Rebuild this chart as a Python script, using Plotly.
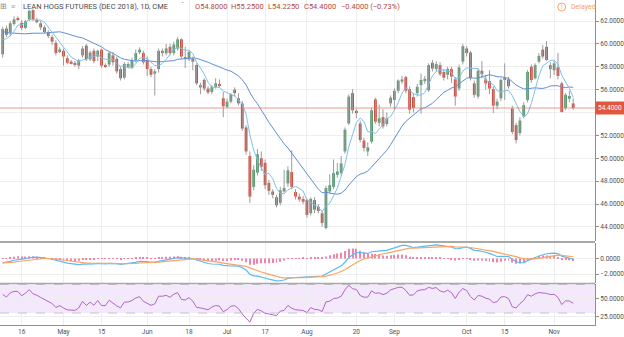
import numpy as np
import pandas as pd
import plotly.graph_objects as go
from plotly.subplots import make_subplots

# ---- daily OHLC, Lean Hogs Dec 2018 (CME), 9 Apr - 8 Nov 2018 ----
opens = [59.1, 61.35, 61.0, 61.75, 62.25, 61.85, 61.4, 62.15, 62.95, 62.1,
         61.8, 61.45, 61.0, 60.6, 60.1, 59.37, 59.4, 58.75, 58.45, 58.3,
         58.1, 59.0, 59.85, 58.65, 59.4, 58.9, 59.5, 58.1, 58.2, 59.0,
         58.7, 57.8, 57.05, 58.0, 57.9, 58.6, 59.25, 59.2, 58.6, 57.8,
         57.4, 57.8, 59.2, 59.18, 59.75, 59.2, 59.6, 60.4, 58.7, 58.65,
         58.7, 58.15, 56.2, 56.85, 56.1, 55.8, 56.25, 56.4, 55.25, 54.5,
         54.95, 56.0, 55.25, 54.8, 52.7, 50.2, 47.5, 48.75, 50.0, 49.6,
         47.85, 47.1, 46.6, 46.1, 47.1, 47.8, 48.8, 47.05, 46.65, 46.45,
         46.35, 45.2, 46.35, 45.75, 45.2, 43.9, 47.1, 47.5, 48.55, 48.7,
         50.6, 53.05, 55.7, 54.15, 53.05, 51.55, 50.6, 51.45, 55.15, 53.1,
         53.6, 53.0, 54.8, 55.1, 55.9, 56.7, 57.1, 56.05, 55.35, 55.7,
         56.4, 56.75, 55.95, 58.35, 57.8, 58.15, 57.55, 57.3, 57.8, 56.9,
         56.1, 58.45, 59.6, 59.25, 56.55, 55.4, 57.65, 56.9, 56.75, 56.05,
         54.6, 55.25, 56.85, 56.9, 54.35, 52.9, 52.2, 53.65, 55.1, 58.0,
         57.0, 58.45, 59.5, 59.75, 57.8, 57.7, 57.95, 56.55, 54.4, 55.2,
         54.8]
highs = [61.5, 61.6, 62.0, 62.4, 62.4, 62.1, 62.1, 63.0, 63.1, 62.3,
         62.0, 61.6, 61.2, 60.8, 60.3, 59.7, 59.6, 59.0, 58.6, 58.5,
         58.7, 59.8, 60.0, 59.4, 59.6, 59.5, 59.6, 58.3, 59.3, 59.3,
         58.9, 58.0, 58.4, 58.4, 58.8, 59.5, 59.7, 59.4, 58.9, 58.0,
         57.8, 59.6, 59.6, 60.0, 60.0, 60.2, 60.6, 60.5, 59.75, 59.4,
         58.9, 58.3, 56.6, 57.0, 56.3, 56.4, 57.0, 56.9, 55.8, 55.2,
         55.7, 56.2, 55.7, 55.0, 52.9, 50.6, 49.4, 50.8, 50.6, 49.9,
         48.1, 47.3, 46.8, 47.5, 49.0, 49.3, 50.7, 47.3, 46.9, 46.7,
         46.5, 46.6, 46.6, 46.0, 45.4, 47.6, 48.6, 49.9, 49.6, 50.2,
         52.7, 55.6, 56.05, 54.3, 53.3, 51.8, 51.4, 54.4, 55.3, 54.7,
         54.3, 54.0, 55.5, 56.1, 56.9, 57.2, 57.2, 56.3, 55.7, 56.5,
         57.4, 57.2, 58.3, 58.6, 58.5, 58.4, 57.8, 58.0, 58.0, 57.1,
         58.2, 60.0, 59.8, 59.4, 56.8, 57.9, 58.5, 57.3, 57.7, 56.3,
         55.2, 57.0, 58.3, 57.1, 54.6, 53.1, 53.6, 54.9, 57.7, 58.2,
         58.3, 59.2, 59.9, 60.25, 58.4, 58.5, 59.2, 56.7, 55.7, 55.9,
         55.25]
lows = [58.8, 60.6, 60.7, 61.6, 62.0, 61.2, 61.3, 62.0, 62.0, 61.8,
        61.2, 60.9, 60.5, 59.9, 59.0, 59.2, 58.1, 58.2, 58.2, 58.0,
        57.8, 58.8, 58.5, 58.5, 58.3, 58.5, 57.9, 57.9, 58.0, 58.1,
        57.4, 56.8, 56.9, 57.9, 57.8, 58.4, 59.1, 58.2, 57.2, 57.1,
        55.5, 57.5, 58.9, 59.0, 59.0, 59.0, 59.4, 58.7, 57.9, 58.5,
        57.7, 56.4, 55.6, 55.9, 55.6, 55.6, 56.1, 56.2, 53.6, 54.4,
        54.8, 55.4, 54.6, 52.4, 50.3, 46.1, 47.2, 48.5, 48.9, 47.3,
        46.8, 46.5, 45.7, 45.9, 47.0, 47.5, 47.3, 46.4, 46.2, 46.0,
        44.8, 45.0, 45.2, 45.2, 44.0, 43.8, 46.9, 47.3, 48.3, 48.5,
        50.4, 52.9, 53.9, 53.5, 51.4, 50.6, 50.2, 51.3, 53.0, 52.8,
        52.6, 52.8, 54.5, 54.2, 55.7, 56.5, 55.7, 53.9, 54.0, 55.4,
        53.9, 56.5, 55.8, 57.6, 57.6, 57.2, 56.8, 56.9, 56.6, 54.6,
        55.9, 58.2, 58.9, 56.8, 55.3, 55.2, 57.0, 56.0, 55.6, 53.95,
        54.3, 55.0, 55.1, 56.1, 52.1, 51.3, 52.0, 53.5, 54.9, 56.6,
        56.9, 58.3, 58.7, 58.5, 57.0, 57.3, 56.9, 54.0, 54.2, 54.9,
        54.225]
closes = [61.3, 60.8, 61.8, 62.15, 62.15, 61.4, 62.0, 62.9, 62.15, 61.9,
          61.45, 61.05, 60.7, 60.2, 59.2, 59.52, 58.9, 58.35, 58.3, 58.2,
          58.55, 59.6, 58.65, 59.25, 58.5, 59.4, 58.1, 58.05, 59.2, 58.4,
          57.6, 57.0, 58.25, 58.25, 58.6, 59.2, 59.5, 58.4, 57.8, 57.3,
          57.6, 59.4, 59.4, 59.61, 59.2, 59.95, 60.4, 58.9, 58.75, 59.3,
          58.45, 56.55, 56.4, 56.1, 55.75, 56.25, 56.55, 56.35, 54.55, 54.95,
          55.6, 55.7, 54.8, 52.6, 50.6, 46.65, 49.0, 50.35, 49.25, 47.65,
          47.15, 46.8, 45.9, 47.2, 47.4, 48.95, 47.5, 46.65, 46.4, 46.2,
          45.05, 46.45, 45.5, 45.4, 44.35, 47.4, 47.65, 48.7, 48.85, 49.55,
          52.5, 55.4, 54.2, 53.95, 51.6, 50.9, 50.95, 54.2, 53.2, 53.5,
          52.8, 53.5, 55.3, 55.9, 56.8, 56.9, 55.9, 54.25, 54.4, 56.25,
          56.85, 56.95, 58.15, 57.85, 58.25, 57.35, 57.05, 57.8, 57.15, 55.4,
          57.95, 59.8, 59.2, 57.0, 55.55, 57.65, 57.35, 56.55, 56.1, 54.6,
          54.95, 56.85, 57.0, 56.3, 52.3, 51.6, 53.3, 54.65, 57.55, 56.85,
          58.15, 58.95, 58.9, 58.6, 58.15, 58.3, 57.2, 54.05, 55.55, 55.45,
          54.4]
# closes before the first drawn session, used to warm up the indicators
prior_closes = [62.4, 62.6, 62.3, 62.0, 62.5, 62.2, 61.9, 62.1, 62.0, 61.6,
                60.6, 59.9, 59.5, 59.1, 58.9, 60.3, 60.6, 60.2, 59.4]

holidays = ["2018-05-28", "2018-07-04", "2018-09-03"]
tick_dates = ["2018-04-16", "2018-05-01", "2018-05-15", "2018-06-01", "2018-06-18",
              "2018-07-02", "2018-07-17", "2018-08-01", "2018-08-20", "2018-09-04",
              "2018-10-01", "2018-10-15", "2018-11-01"]
tick_text = ["16", "May", "15", "Jun", "18", "Jul", "17", "Aug", "20", "Sep",
             "Oct", "15", "Nov"]
price_ticks = list(range(44, 63, 2))
change_text = "\u22120.4000 (\u22120.73%)"

sessions = pd.bdate_range("2018-04-09", periods=len(closes), freq="C", holidays=holidays)
idx = np.arange(len(closes))
tick_pos = sessions.get_indexer(pd.to_datetime(tick_dates))

o, h, l, c = map(np.asarray, (opens, highs, lows, closes))

# ---- indicators ----
n_pre = len(prior_closes)
allc = pd.Series(prior_closes + closes, dtype=float)
sma_fast = allc.rolling(5).mean().iloc[n_pre:].to_numpy()
sma_slow = allc.rolling(20).mean().iloc[n_pre:].to_numpy()
ema12 = allc.ewm(span=12, adjust=False).mean()
ema26 = allc.ewm(span=26, adjust=False).mean()
macd_full = ema12 - ema26
signal_full = macd_full.ewm(span=9, adjust=False).mean()
macd = macd_full.iloc[n_pre:].to_numpy()
signal = signal_full.iloc[n_pre:].to_numpy()
hist = macd - signal
delta = allc.diff()
gain = delta.clip(lower=0).ewm(alpha=1 / 14, adjust=False).mean()
loss = (-delta.clip(upper=0)).ewm(alpha=1 / 14, adjust=False).mean()
rsi = (100 - 100 / (1 + gain / loss)).iloc[n_pre:].to_numpy()

# ---- geometry ----
W, H = 624, 337
PLOT_W, PLOT_H = 599, 325
UP, DOWN = "#56986f", "#cd483b"
GRID = "#eeeeee"
AXIS = "#8f8f8f"
TXT = "#505050"
FONT = "Roboto"


def px(xp):
    return xp / PLOT_W


def py(yp):
    return 1 - yp / PLOT_H


fig = make_subplots(rows=3, cols=1, shared_xaxes=True)

# wicks
wx, wy = [], []
for i in idx:
    wx += [i, i, None]
    wy += [l[i], h[i], None]
fig.add_trace(go.Scatter(x=wx, y=wy, mode="lines", line=dict(color="#9b9b9b", width=1),
                         hoverinfo="skip"), row=1, col=1)
# bodies
body_base = np.minimum(o, c)
body_h = np.maximum(np.abs(c - o), 0.07)
body_col = [UP if c[i] >= o[i] else DOWN for i in idx]
fig.add_trace(go.Bar(x=idx, y=body_h, base=body_base, width=0.74,
                     marker=dict(color=body_col, line=dict(width=0))), row=1, col=1)
fig.add_trace(go.Scatter(x=idx, y=sma_slow, mode="lines",
                         line=dict(color="#5e8fd6", width=1)), row=1, col=1)
fig.add_trace(go.Scatter(x=idx, y=sma_fast, mode="lines",
                         line=dict(color="#7cc1ea", width=1)), row=1, col=1)

# MACD pane
fig.add_trace(go.Bar(x=idx, y=hist, width=0.26,
                     marker=dict(color="#f283ab", line=dict(width=0))), row=2, col=1)
fig.add_trace(go.Scatter(x=idx, y=macd, mode="lines",
                         line=dict(color="#5bbaf3", width=1.2)), row=2, col=1)
fig.add_trace(go.Scatter(x=idx, y=signal, mode="lines",
                         line=dict(color="#f8a565", width=1.2)), row=2, col=1)

# RSI pane
fig.add_trace(go.Scatter(x=idx, y=rsi, mode="lines",
                         line=dict(color="#b265c9", width=1)), row=3, col=1)

xr = [-0.697, 155.74]
for k in (1, 2, 3):
    fig.update_xaxes(range=xr, tickvals=tick_pos, ticktext=tick_text, showgrid=True,
                     gridcolor=GRID, gridwidth=1, zeroline=False, ticks="",
                     showticklabels=(k == 3), row=k, col=1)
fig.update_xaxes(showline=True, linecolor=AXIS, linewidth=1,
                 tickfont=dict(size=6.5, color=TXT, family=FONT), row=3, col=1)

# the price tag covers the scale label nearest to the last close
last = c[-1]
price_text = ["" if abs(v - last) < 0.8 else f"{v:.4f}" for v in price_ticks]

yax = dict(side="right", showgrid=True, gridcolor=GRID, zeroline=False, showline=True,
           linecolor=AXIS, linewidth=1, ticks="outside", ticklen=3, tickcolor=AXIS,
           tickformat=".4f", tickfont=dict(size=6.5, color=TXT, family=FONT))
fig.update_layout(
    yaxis=dict(yax, domain=[py(241), 1], range=[42.77, 63.84],
               tickvals=price_ticks, ticktext=price_text),
    yaxis2=dict(yax, domain=[py(283), py(243)], range=[-3.16, 2.0], tickvals=[0, -2]),
    yaxis3=dict(yax, domain=[0, py(284)], range=[13.2, 70.7], tickvals=[25, 50]),
)

shapes = [
    # RSI band
    dict(type="rect", xref="paper", yref="y3", x0=0, x1=1, y0=30, y1=70,
         fillcolor="rgba(190,120,235,0.17)", line=dict(width=0), layer="below"),
    dict(type="line", xref="paper", yref="y3", x0=0, x1=1, y0=70, y1=70,
         line=dict(color="#c4c4c4", width=1, dash="dash")),
    dict(type="line", xref="paper", yref="y3", x0=0, x1=1, y0=30, y1=30,
         line=dict(color="#c4c4c4", width=1, dash="dash")),
    # last price line
    dict(type="line", xref="paper", yref="y", x0=0, x1=1, y0=last, y1=last,
         line=dict(color="rgba(232,120,100,0.5)", width=1.5)),
    # pane separators
    dict(type="line", xref="paper", yref="paper", x0=0, x1=1, y0=py(242), y1=py(242),
         line=dict(color="#a8a8a8", width=2)),
    dict(type="line", xref="paper", yref="paper", x0=0, x1=1, y0=py(283.5), y1=py(283.5),
         line=dict(color="#a8a8a8", width=1.5)),
    # delayed badge ring
    dict(type="circle", xref="paper", yref="paper", x0=px(561.5), x1=px(569.5),
         y0=py(11), y1=py(3), line=dict(color="#f5a46c", width=1)),
]

ann = []


def add_text(x, y, text, size=7.5, color=TXT, anchor="left"):
    ann.append(dict(xref="paper", yref="paper", x=px(x), y=py(y), text=text,
                    showarrow=False, xanchor=anchor, yanchor="middle",
                    font=dict(size=size, color=color, family=FONT)))


add_text(4, 7, "\u229e", size=8, color="#8a8a8a", anchor="center")
add_text(14, 7, "\u2261", size=8, color="#9a9a9a", anchor="center")
add_text(21, 7, "LEAN HOGS FUTURES (DEC 2018), 1D, CME", size=7.5, color="#4a4a4a")
add_text(184, 6, "\u02c7", size=7, color="#8a8a8a", anchor="center")
val_col = "#b04a3c"
add_text(194, 7, f"O{o[-1]:.4f}", size=7.5, color=val_col)
add_text(231, 7, f"H{h[-1]:.4f}", size=7.5, color=val_col)
add_text(268, 7, f"L{l[-1]:.4f}", size=7.5, color=val_col)
add_text(304, 7, f"C{c[-1]:.4f}", size=7.5, color=val_col)
add_text(341, 7, change_text, size=7.5, color=val_col)
add_text(565.5, 7, "!", size=6.5, color="#f5a46c", anchor="center")
add_text(573, 7, "Delayed", size=7, color="#f5a46c")

# last price tag on the price scale
ann.append(dict(xref="paper", yref="y", x=1.0, y=last, text=f"{last:.4f}",
                showarrow=False, xanchor="left", yanchor="middle", bgcolor="#e0563f",
                borderpad=2, font=dict(size=6.5, color="white", family=FONT)))

fig.update_layout(
    width=W, height=H, margin=dict(l=0, r=W - PLOT_W, t=0, b=H - PLOT_H),
    paper_bgcolor="white", plot_bgcolor="white", showlegend=False,
    barmode="overlay", hovermode=False, shapes=shapes, annotations=ann,
    font=dict(family=FONT),
)

fig.write_html("out.html")
